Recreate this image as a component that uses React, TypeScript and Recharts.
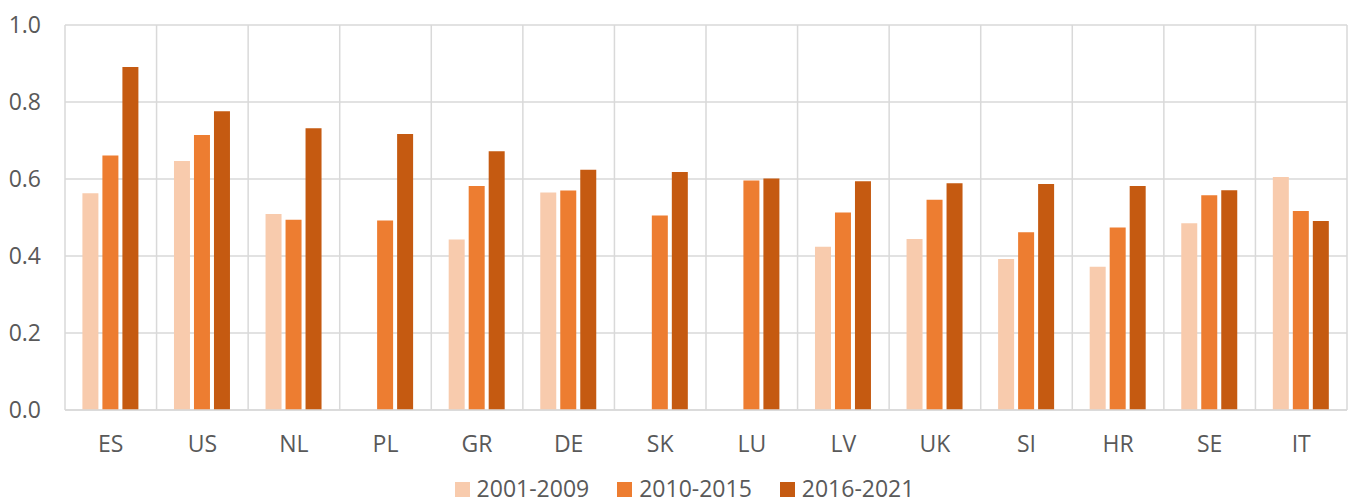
import React from 'react';
import { BarChart, Bar, XAxis, YAxis, CartesianGrid, Legend } from 'recharts';

if (typeof document !== 'undefined') {
  document.body.style.margin = '0';
}

const countries = ['ES', 'US', 'NL', 'PL', 'GR', 'DE', 'SK', 'LU', 'LV', 'UK', 'SI', 'HR', 'SE', 'IT'];
const p2001_2009: (number | null)[] = [0.563, 0.647, 0.509, null, 0.443, 0.565, null, null, 0.424, 0.444, 0.392, 0.372, 0.485, 0.605];
const p2010_2015: (number | null)[] = [0.661, 0.714, 0.494, 0.492, 0.582, 0.570, 0.505, 0.596, 0.513, 0.546, 0.462, 0.474, 0.558, 0.517];
const p2016_2021: (number | null)[] = [0.891, 0.776, 0.732, 0.717, 0.672, 0.624, 0.618, 0.601, 0.594, 0.589, 0.587, 0.582, 0.571, 0.491];
const yTicks = [0, 0.2, 0.4, 0.6, 0.8, 1.0];

const seriesNames = ['2001-2009', '2010-2015', '2016-2021'];
const seriesColors = ['#F8CBAD', '#ED7D31', '#C55A11'];

const data = countries.map((c, i) => ({
  country: c,
  s1: p2001_2009[i],
  s2: p2010_2015[i],
  s3: p2016_2021[i],
}));

const FONT = '"Open Sans", "Noto Sans", sans-serif';
const TEXT = '#595959';
const GRID = '#D9D9D9';
const FS = 23;

const LegendContent = () => (
  <div
    style={{
      display: 'flex',
      justifyContent: 'center',
      paddingLeft: 22,
      fontFamily: FONT,
      fontSize: FS,
      color: TEXT,
      lineHeight: '26px',
    }}
  >
    {seriesNames.map((n, i) => (
      <div key={n} style={{ display: 'flex', alignItems: 'center', marginRight: i < 2 ? 28 : 0 }}>
        <span style={{ display: 'inline-block', width: 15, height: 15, background: seriesColors[i], marginRight: 7, marginTop: 3 }} />
        <span>{n}</span>
      </div>
    ))}
  </div>
);

export default function App() {
  return (
    <BarChart
      width={1355}
      height={504}
      data={data}
      margin={{ top: 25, right: 8, left: 0, bottom: 0 }}
      barCategoryGap="19%"
      barGap={4}
    >
      <CartesianGrid
        stroke={GRID}
        strokeWidth={1.5}
        verticalCoordinatesGenerator={({ offset }: any) => {
          const n = countries.length;
          const pts: number[] = [];
          for (let i = 0; i <= n; i++) pts.push(offset.left + (i * offset.width) / n);
          return pts;
        }}
      />
      <XAxis
        dataKey="country"
        height={55}
        tickLine={false}
        axisLine={{ stroke: GRID, strokeWidth: 1.5 }}
        tickSize={0}
        tickMargin={26}
        tick={{ fill: TEXT, fontSize: FS, fontFamily: FONT }}
        interval={0}
      />
      <YAxis
        width={65}
        domain={[0, 1]}
        ticks={yTicks}
        tickFormatter={(v: number) => v.toFixed(1)}
        tickLine={false}
        axisLine={false}
        tickSize={0}
        tickMargin={24}
        tick={{ fill: TEXT, fontSize: FS, fontFamily: FONT }}
      />
      <Legend verticalAlign="bottom" height={39} wrapperStyle={{ bottom: -10 }} content={<LegendContent />} />
      <Bar dataKey="s1" name={seriesNames[0]} fill={seriesColors[0]} isAnimationActive={false} />
      <Bar dataKey="s2" name={seriesNames[1]} fill={seriesColors[1]} isAnimationActive={false} />
      <Bar dataKey="s3" name={seriesNames[2]} fill={seriesColors[2]} isAnimationActive={false} />
    </BarChart>
  );
}
